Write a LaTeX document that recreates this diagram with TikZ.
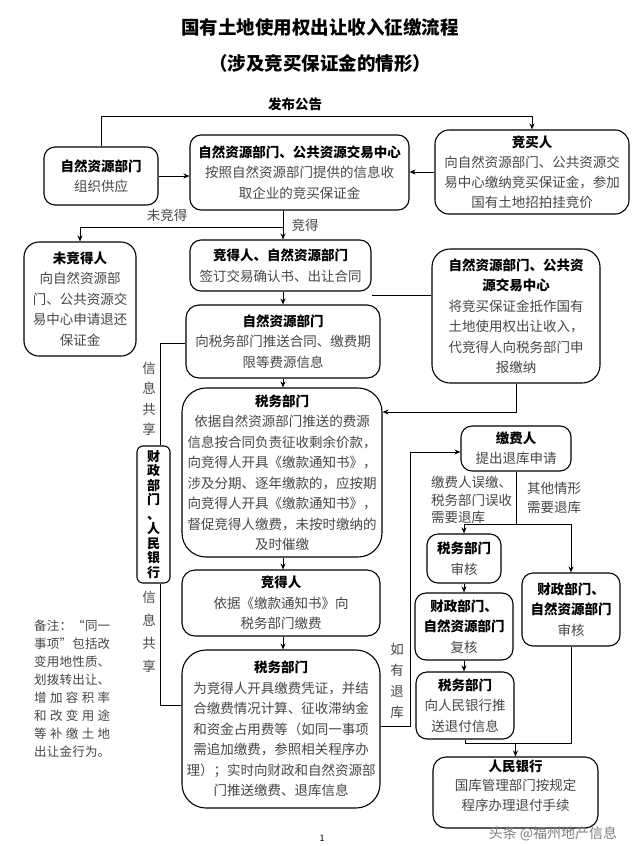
\documentclass[tikz,border=0pt]{standalone}
\usepackage{fontspec}
\setmainfont{Noto Sans CJK SC}
\usetikzlibrary{arrows.meta,calc}
\tikzset{
  box/.style={draw,line width=1.1pt,rounded corners=11pt,align=center,inner sep=0pt,
     font=\fontsize{13.5}{20.5}\selectfont,text=black!72},
  arr/.style={-{Stealth[length=6pt,width=5pt]},line width=1pt},
  ln/.style={line width=1pt},
  lbl/.style={font=\fontsize{13.5}{19}\selectfont,text=black!72,inner sep=0pt},
}
\newcommand\hd[1]{{\bfseries\color{black}#1}}
\begin{document}
\begin{tikzpicture}[x=1pt,y=-1pt]
\fill[white] (0,0) rectangle (640,846);
\useasboundingbox (0,0) rectangle (640,846);

% titles
\node[font={\fontsize{18.5}{22}\selectfont\bfseries}] (t1) at (320,27) {国有土地使用权出让收入征缴流程};
\node[font={\fontsize{18.5}{22}\selectfont\bfseries}] (t2) at (320,63) {（涉及竞买保证金的情形）};
\node[font={\fontsize{13.5}{16}\selectfont\bfseries}] (pub) at (295,104) {发布公告};

% coordinates
\coordinate (sp) at (283,0);
\coordinate (ytop) at (0,116);
\coordinate (ybr) at (0,227);
\coordinate (ydf) at (0,295);
\coordinate (yfh) at (0,412);
\coordinate (ygk) at (0,343);
\coordinate (yjk) at (0,705);
\coordinate (yjl) at (0,726);
\coordinate (yl) at (0,452);
\coordinate (ylmn) at (0,524);
\coordinate (ypq) at (0,743);
\coordinate (xk) at (160,0);
\coordinate (xr) at (410,0);

% boxes
\node[box,minimum width=114,minimum height=58] (A) at (101,176) {\hd{自然资源部门}\\组织供应};
\node[box,minimum width=219,minimum height=75] (B) at (299.5,172.5) {\hd{自然资源部门、公共资源交易中心}\\按照自然资源部门提供的信息收\\取企业的竞买保证金};
\node[box,minimum width=194,minimum height=84,rounded corners=14pt,font=\fontsize{13.5}{20}\selectfont] (C) at (532,172) {\hd{竞买人}\\向自然资源部门、公共资源交\\易中心缴纳竞买保证金，参加\\国有土地招拍挂竞价};
\node[box,minimum width=112,minimum height=114,rounded corners=15pt] (E) at (80,299) {\hd{未竞得人}\\向自然资源部\\门、公共资源交\\易中心申请退还\\保证金};
\node[box,minimum width=181,minimum height=51] (D) at (280.5,265.5) {\hd{竞得人、自然资源部门}\\签订交易确认书、出让合同};
\node[box,minimum width=168,minimum height=134,rounded corners=18pt] (F) at (516,316) {\hd{自然资源部门、公共资}\\\hd{源交易中心}\\将竞买保证金抵作国有\\土地使用权出让收入，\\代竞得人向税务部门申\\报缴纳};
\node[box,minimum width=194,minimum height=73,rounded corners=13pt] (G) at (283,341.5) {\hd{自然资源部门}\\向税务部门推送合同、缴费期\\限等费源信息};
\node[box,minimum width=200,minimum height=169,rounded corners=24pt] (H) at (282,472.5) {\hd{税务部门}\\依据自然资源部门推送的费源\\信息按合同负责征收剩余价款，\\向竞得人开具《缴款通知书》，\\涉及分期、逐年缴款的，应按期\\向竞得人开具《缴款通知书》，\\督促竞得人缴费，未按时缴纳的\\及时催缴};
\node[box,minimum width=198,minimum height=66,rounded corners=13pt] (I) at (281,603) {\hd{竞得人}\\依据《缴款通知书》向\\税务部门缴费};
\node[box,minimum width=198,minimum height=158,rounded corners=24pt] (J) at (281,729) {\hd{税务部门}\\为竞得人开具缴费凭证，并结\\合缴费情况计算、征收滞纳金\\和资金占用费等（如同一事项\\需追加缴费，参照相关程序办\\理）；实时向财政和自然资源部\\门推送缴费、退库信息};
\node[box,minimum width=33,minimum height=137,rounded corners=6pt,font={\fontsize{13}{14.5}\selectfont\bfseries},text=black] (K) at (153.5,514.5) {财\\政\\部\\门\\、\\人\\民\\银\\行};
\node[box,minimum width=110,minimum height=45] (L) at (516,448.5) {\hd{缴费人}\\提出退库申请};
\node[box,minimum width=74,minimum height=49] (M) at (464,558.5) {\hd{税务部门}\\审核};
\node[box,minimum width=98,minimum height=67] (O) at (464,626.5) {\hd{财政部门、}\\\hd{自然资源部门}\\复核};
\node[box,minimum width=98,minimum height=67] (P) at (465,705.5) {\hd{税务部门}\\向人民银行推\\送退付信息};
\node[box,minimum width=98,minimum height=73] (N) at (571,609.5) {\hd{财政部门、}\\\hd{自然资源部门}\\审核};
\node[box,minimum width=165,minimum height=71,rounded corners=13pt,font=\fontsize{13.5}{19.5}\selectfont] (Q) at (515.5,792.5) {\hd{人民银行}\\国库管理部门按规定\\程序办理退付手续\\[-4pt]};

% connectors
\draw[arr] (A.north) |- (C.north |- ytop) -- (C.north);
\draw[arr] (A.east) -- (A.east -| B.west);
\draw[arr] (C.west) -- (C.west -| B.east);
\draw[arr] (B.south -| sp) -- (D.north -| sp);
\draw[arr] (B.south -| sp) -- (sp |- ybr) -| (E.north);
\draw[ln] (D.east |- ydf) -- (F.west |- ydf);
\draw[arr] (D.south -| sp) -- (G.north -| sp);
\draw[arr] (G.south -| sp) -- (H.north -| sp);
\draw[arr] (H.south -| sp) -- (I.north -| sp);
\draw[arr] (I.south -| sp) -- (J.north -| sp);
\draw[arr] (F.south) |- (H.east |- yfh);
\draw[ln] (G.west |- ygk) -| (K.north -| xk);
\draw[ln] (K.south -| xk) |- (J.west |- yjk);
\draw[arr] (J.east |- yjl) -| (xr |- yl) -- (L.west |- yl);
\draw[ln] (L.south) -- (L.south |- ylmn);
\draw[ln] (M.north |- ylmn) -- (N.north |- ylmn);
\draw[arr] (M.north |- ylmn) -- (M.north);
\draw[arr] (N.north |- ylmn) -- (N.north);
\draw[arr] (M.south) -- (O.north);
\draw[arr] (O.south) -- (O.south |- P.north);
\draw[ln] (P.south) |- (N.south |- ypq) -- (N.south);
\draw[arr] (Q.north |- ypq) -- (Q.north);

% labels
\node[lbl] (lw) at (167,215) {未竞得};
\node[lbl] (lj) at (305,225) {竞得};
\node[lbl,align=center,font=\fontsize{13.5}{20.5}\selectfont] (s1) at (149,399) {信\\息\\共\\享};
\node[lbl,align=center,font=\fontsize{13.5}{23}\selectfont] (s2) at (149,632) {信\\息\\共\\享};
\node[lbl,align=center,font=\fontsize{13.5}{21}\selectfont] (rk) at (397,681) {如\\有\\退\\库};
\node[lbl,align=left,anchor=west,font=\fontsize{13.5}{17.5}\selectfont] (lm) at (431,500) {缴费人误缴、\\税务部门误收\\需要退库};
\node[lbl,align=left,anchor=west,font=\fontsize{13.5}{18.5}\selectfont] (ln2) at (527,498) {其他情形\\需要退库};

% note
\node[lbl,align=left,anchor=north west,font=\fontsize{12.5}{17.9}\selectfont] (note) at (34,620) {%
\makebox[76pt][s]{备\hfill 注\hfill ：\hfill “\hfill 同\hfill 一}\\
\makebox[76pt][s]{事\hfill 项\hfill ”\hfill 包\hfill 括\hfill 改}\\
\makebox[76pt][s]{变\hfill 用\hfill 地\hfill 性\hfill 质\hfill 、}\\
\makebox[76pt][s]{划\hfill 拨\hfill 转\hfill 出\hfill 让\hfill 、}\\
\makebox[76pt][s]{增\hfill 加\hfill 容\hfill 积\hfill 率}\\
\makebox[76pt][s]{和\hfill 改\hfill 变\hfill 用\hfill 途}\\
\makebox[76pt][s]{等\hfill 补\hfill 缴\hfill 土\hfill 地}\\
\makebox[76pt][s]{出\hfill 让\hfill 金\hfill 行\hfill 为\hfill 。}};

% footer and watermark
\node[font=\fontsize{9}{9}\selectfont] (pg) at (322,838) {1};
\node[font=\fontsize{14}{14}\selectfont,text=black!50] (wm) at (553,834) {头条 @福州地产信息};
\end{tikzpicture}
\end{document}
